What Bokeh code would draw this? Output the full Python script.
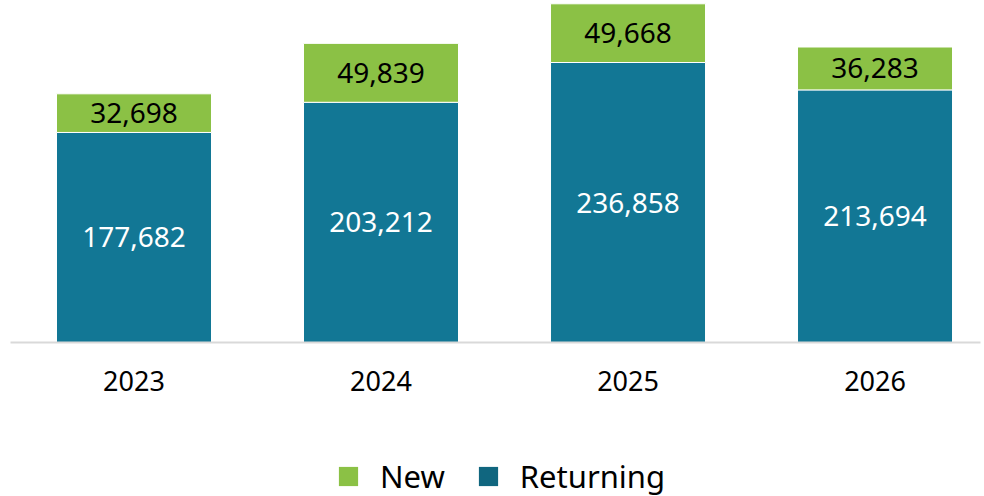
from bokeh.plotting import figure
from bokeh.layouts import column
from bokeh.models import ColumnDataSource, Range1d, FixedTicker, Legend, LegendItem
from bokeh.core.properties import value
from bokeh.embed import file_html
from bokeh.resources import INLINE

years = ["2023", "2024", "2025", "2026"]
returning = [177682, 203212, 236858, 213694]
new = [32698, 49839, 49668, 36283]
series_names = ["New", "Returning"]

TEAL = "#127795"
TEAL_KEY = "#10667f"
GREEN = "#8bc145"
FONT = "Noto Sans"

xs = list(range(len(years)))
totals = [r + n for r, n in zip(returning, new)]
src = ColumnDataSource(dict(
    x=xs,
    returning=returning,
    new=new,
    total=totals,
    ret_mid=[r / 2 for r in returning],
    new_mid=[r + n / 2 for r, n in zip(returning, new)],
    ret_lbl=[f"{v:,}" for v in returning],
    new_lbl=[f"{v:,}" for v in new],
))

# ---- main chart ----
p = figure(width=984, height=436, output_backend="svg", toolbar_location=None,
           x_range=Range1d(-0.5, 3.427), y_range=Range1d(0, 289320),
           min_border_left=10, min_border_right=4, min_border_top=0, min_border_bottom=94)
p.outline_line_color = None
p.grid.visible = False
p.yaxis.visible = False
p.background_fill_color = "white"
p.border_fill_color = "white"

bw = 0.6275
p.vbar(x="x", bottom=0, top="returning", width=bw, source=src,
       fill_color=TEAL, line_color="white", line_width=1)
p.vbar(x="x", bottom="returning", top="total", width=bw, source=src,
       fill_color=GREEN, line_color="white", line_width=1)

p.text(x="x", y="ret_mid", text="ret_lbl", source=src, text_align="center",
       text_baseline="middle", text_color="white", text_font=value(FONT),
       text_font_size="28px")
p.text(x="x", y="new_mid", text="new_lbl", source=src, text_align="center",
       text_baseline="middle", text_color="black", text_font=value(FONT),
       text_font_size="28px")

ax = p.xaxis[0]
ax.ticker = FixedTicker(ticks=xs)
ax.major_label_overrides = {i: y for i, y in zip(xs, years)}
ax.major_tick_line_color = None
ax.minor_tick_line_color = None
ax.axis_line_color = "#d9d9d9"
ax.axis_line_width = 2
ax.major_label_text_font = FONT
ax.major_label_text_font_size = "27px"
ax.major_label_text_color = "black"
ax.major_label_standoff = 22

# ---- legend strip ----
lg = figure(width=984, height=60, output_backend="svg", toolbar_location=None,
            x_range=Range1d(0, 1), y_range=Range1d(0, 1),
            min_border_left=10, min_border_right=4, min_border_top=20, min_border_bottom=0)
lg.outline_line_color = None
lg.grid.visible = False
lg.axis.visible = False
lg.border_fill_color = "white"
k_new = lg.vbar(x="x", bottom="returning", top="total", width=bw, source=src,
                fill_color=GREEN, line_color=None, visible=False)
k_ret = lg.vbar(x="x", bottom=0, top="returning", width=bw, source=src,
                fill_color=TEAL_KEY, line_color=None, visible=False)

legend = Legend(items=[LegendItem(label=series_names[0], renderers=[k_new]),
                       LegendItem(label=series_names[1], renderers=[k_ret])],
                orientation="horizontal", location=(326, -1),
                label_text_font=FONT, label_text_font_size="31px",
                label_text_color="black",
                glyph_width=24, glyph_height=24, spacing=31,
                label_standoff=20, border_line_color=None,
                background_fill_alpha=0, inactive_fill_alpha=0,
                margin=0, padding=0)
lg.add_layout(legend, "center")

layout = column(p, lg, spacing=0)
open("out.html", "w").write(file_html(layout, INLINE))
